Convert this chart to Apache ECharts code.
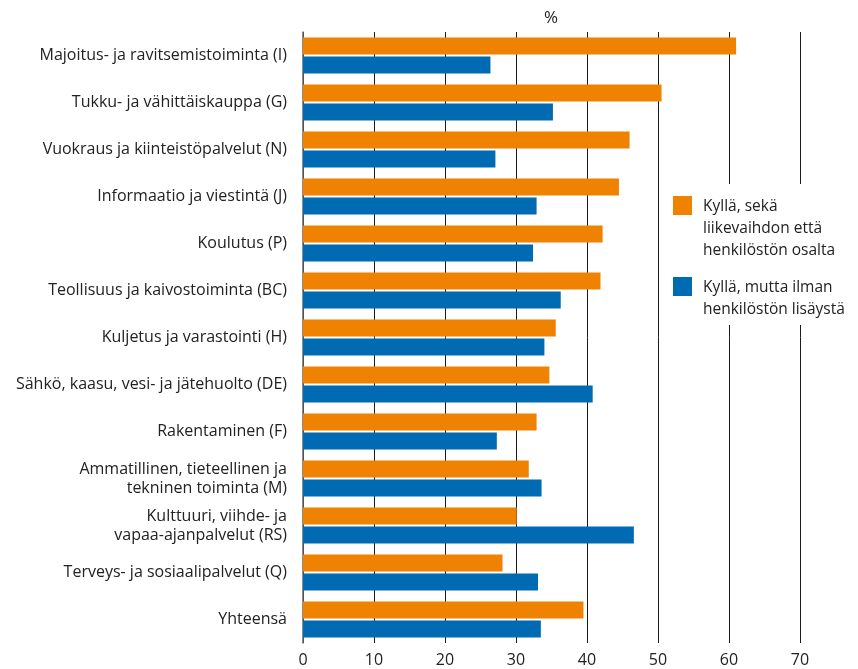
<!DOCTYPE html>
<html>
<head>
<meta charset="utf-8">
<script src="https://cdn.jsdelivr.net/npm/echarts@6/dist/echarts.min.js"></script>
<style>
  html, body { margin: 0; padding: 0; background: #fff; }
  #chart { width: 858px; height: 669px; }
</style>
</head>
<body>
<div id="chart"></div>
<script>
const categories = [
  'Majoitus- ja ravitsemistoiminta (I)',
  'Tukku- ja vähittäiskauppa (G)',
  'Vuokraus ja kiinteistöpalvelut (N)',
  'Informaatio ja viestintä (J)',
  'Koulutus (P)',
  'Teollisuus ja kaivostoiminta (BC)',
  'Kuljetus ja varastointi (H)',
  'Sähkö, kaasu, vesi- ja jätehuolto (DE)',
  'Rakentaminen (F)',
  'Ammatillinen, tieteellinen ja\ntekninen toiminta (M)',
  'Kulttuuri, viihde- ja\nvapaa-ajanpalvelut (RS)',
  'Terveys- ja sosiaalipalvelut (Q)',
  'Yhteensä'
];

const seriesNames = [
  'Kyllä, sekä\nliikevaihdon että\nhenkilöstön osalta',
  'Kyllä, mutta ilman\nhenkilöstön lisäystä'
];

const withStaff = [61.0, 50.5, 46.0, 44.5, 42.2, 41.9, 35.6, 34.7, 32.9, 31.8, 30.1, 28.1, 39.5];
const withoutStaff = [26.4, 35.2, 27.1, 32.9, 32.4, 36.3, 34.0, 40.8, 27.3, 33.6, 46.6, 33.1, 33.5];

const xTicks = [0, 10, 20, 30, 40, 50, 60, 70];

const colors = ['#ef8200', '#006ab3'];
const textColor = '#222';
const fontFamily = '"Open Sans", "Noto Sans", sans-serif';

const chart = echarts.init(document.getElementById('chart'));

// legend drawn as a box on top of the grid lines
const legendTops = [196, 277];
const legendItems = [
  {
    type: 'rect',
    shape: { x: 662, y: 184, width: 196, height: 141 },
    style: { fill: '#fff' },
    z: 100
  }
];
seriesNames.forEach((name, i) => {
  legendItems.push({
    type: 'rect',
    shape: { x: 673, y: legendTops[i], width: 19, height: 19 },
    style: { fill: colors[i] },
    z: 101
  });
  legendItems.push({
    type: 'text',
    x: 703,
    y: legendTops[i],
    style: {
      text: name,
      fill: textColor,
      font: '15.5px ' + fontFamily,
      lineHeight: 22,
      verticalAlign: 'top'
    },
    z: 101
  });
});

const option = {
  animation: false,
  title: {
    text: '%',
    left: 539,
    top: 5,
    textStyle: { color: textColor, fontSize: 17, fontWeight: 'normal', fontFamily: fontFamily }
  },
  grid: {
    left: 303,
    right: 58,
    top: 32,
    bottom: 26,
    containLabel: false
  },
  xAxis: {
    type: 'value',
    min: xTicks[0],
    max: xTicks[xTicks.length - 1],
    interval: 10,
    axisLine: { show: false },
    axisTick: { show: false },
    axisLabel: {
      color: textColor,
      fontSize: 16,
      fontFamily: fontFamily,
      margin: 9
    },
    splitLine: {
      show: true,
      lineStyle: { color: '#1a1a1a', width: 1 }
    }
  },
  yAxis: {
    type: 'category',
    data: categories,
    inverse: true,
    axisLine: { show: true, lineStyle: { color: '#666', width: 1.5 } },
    axisTick: { show: false },
    axisLabel: {
      color: textColor,
      fontSize: 16,
      fontFamily: fontFamily,
      margin: 16,
      lineHeight: 19,
      align: 'right'
    }
  },
  series: [
    {
      name: seriesNames[0],
      type: 'bar',
      data: withStaff,
      barWidth: 17,
      barGap: '13%',
      itemStyle: { color: colors[0] }
    },
    {
      name: seriesNames[1],
      type: 'bar',
      data: withoutStaff,
      barWidth: 17,
      barGap: '13%',
      itemStyle: { color: colors[1] }
    }
  ],
  graphic: legendItems
};

chart.setOption(option);
</script>
</body>
</html>
